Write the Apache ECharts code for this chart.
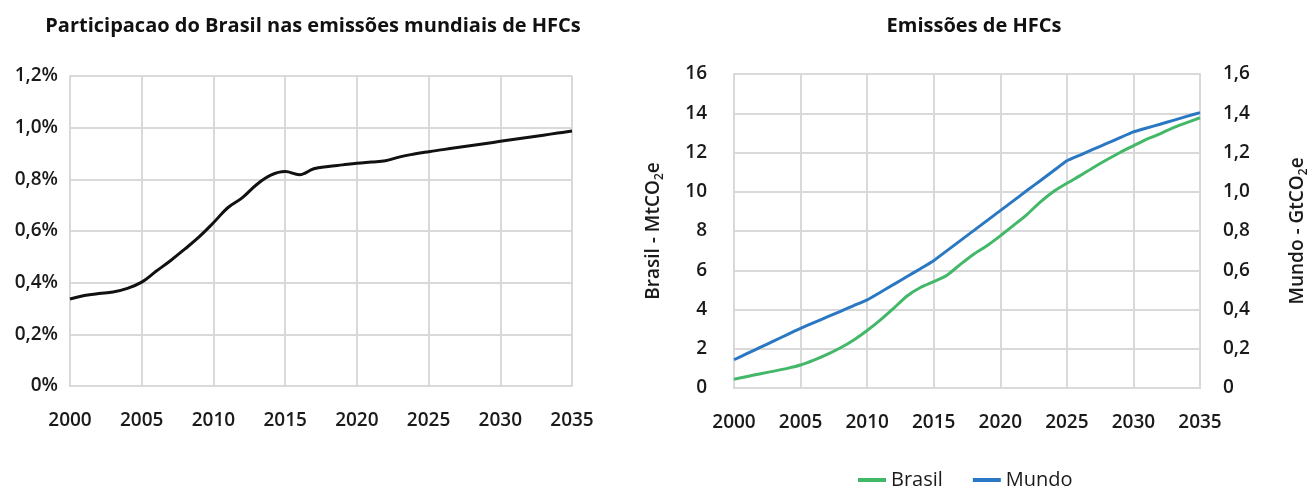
<!DOCTYPE html>
<html>
<head>
<meta charset="utf-8">
<script src="https://cdn.jsdelivr.net/npm/echarts@6/dist/echarts.min.js"></script>
<style>
html,body{margin:0;padding:0;background:#fff;}
#chart{width:1311px;height:488px;}
</style>
</head>
<body>
<div id="chart"></div>
<script>
// ---- Data ----
const years = [2000,2001,2002,2003,2004,2005,2006,2007,2008,2009,2010,2011,2012,2013,2014,2015,2016,2017,2018,2019,2020,2021,2022,2023,2024,2025,2026,2027,2028,2029,2030,2031,2032,2033,2034,2035];
// Brazil share of world HFC emissions (%)
const shareBrasil = [0.337,0.350,0.358,0.364,0.378,0.402,0.444,0.485,0.530,0.577,0.632,0.690,0.728,0.779,0.816,0.830,0.818,0.841,0.850,0.856,0.862,0.867,0.872,0.887,0.898,0.907,0.915,0.923,0.931,0.939,0.947,0.955,0.963,0.971,0.979,0.987];
// Brazil HFC emissions (MtCO2e)
const emisBrasil = [0.45,0.59,0.73,0.86,1.0,1.17,1.42,1.71,2.05,2.45,2.93,3.47,4.07,4.69,5.12,5.42,5.75,6.30,6.82,7.25,7.75,8.29,8.84,9.47,10.01,10.43,10.82,11.24,11.63,12.0,12.34,12.68,12.95,13.27,13.52,13.77];
// World HFC emissions (GtCO2e)
const emisMundo = [0.144,0.176,0.208,0.240,0.272,0.304,0.333,0.362,0.391,0.420,0.449,0.488,0.528,0.568,0.608,0.649,0.700,0.751,0.802,0.853,0.904,0.955,1.006,1.056,1.107,1.158,1.187,1.217,1.246,1.276,1.305,1.325,1.344,1.364,1.384,1.403];
const titleLeft = 'Participacao do Brasil nas emissões mundiais de HFCs';
const titleRight = 'Emissões de HFCs';

const FONT = '"Open Sans", "Noto Sans", sans-serif';
const gridColor = '#d9d9d9';
const green = '#43b869';
const blue = '#2a78c4';

const pair = (arr) => years.map((y,i)=>[y, arr[i]]);
const comma = (v, d) => (Math.abs(v) < 1e-9 ? '0' : v.toFixed(d).replace('.', ','));

const labelStyle = {fontFamily: FONT, fontSize: 19, fontWeight: 600, color: '#1a1a1a'};

function xAxis(gridIndex){
  return {
    type: 'value', gridIndex, min: 2000, max: 2035, interval: 5,
    axisLine: {show: true, lineStyle: {color: gridColor, width: 2}},
    axisTick: {show: false},
    splitLine: {show: true, lineStyle: {color: gridColor, width: 2}},
    axisLabel: Object.assign({margin: 25, formatter: v => String(v)}, labelStyle)
  };
}
const subRich = {s: {fontFamily: FONT, fontSize: 12, fontWeight: 600, color: '#1a1a1a', verticalAlign: 'bottom', lineHeight: 12}};

const chart = echarts.init(document.getElementById('chart'));
chart.setOption({
  backgroundColor: '#fff',
  animation: false,
  title: [
    {text: titleLeft, left: 308, top: 11, textAlign: 'center',
     textStyle: {fontFamily: FONT, fontSize: 20, fontWeight: 700, color: '#111'}},
    {text: titleRight, left: 969, top: 11, textAlign: 'center',
     textStyle: {fontFamily: FONT, fontSize: 20, fontWeight: 700, color: '#111'}}
  ],
  legend: {
    data: ['Brasil', 'Mundo'],
    left: 853, top: 465,
    itemWidth: 28, itemHeight: 4, itemGap: 30,
    icon: 'rect',
    textStyle: {fontFamily: FONT, fontSize: 20, fontWeight: 500, color: '#1a1a1a'}
  },
  grid: [
    {left: 70, top: 76, width: 502, height: 310},
    {left: 734, top: 74, width: 472, height: 314}
  ],
  xAxis: [xAxis(0), xAxis(1)],
  yAxis: [
    {type: 'value', gridIndex: 0, min: 0, max: 1.2, interval: 0.2,
     axisLine: {show: true, lineStyle: {color: gridColor, width: 2}},
     axisTick: {show: false},
     splitLine: {show: true, lineStyle: {color: gridColor, width: 2}},
     axisLabel: Object.assign({margin: 12, formatter: v => comma(v,1) + '%'}, labelStyle)},
    {type: 'value', gridIndex: 1, min: 0, max: 16, interval: 2,
     name: 'Brasil - MtCO{s|2}e', nameLocation: 'middle', nameGap: 68, nameRotate: 90,
     nameTextStyle: Object.assign({lineHeight: 24, rich: subRich}, labelStyle),
     axisLine: {show: true, lineStyle: {color: gridColor, width: 2}},
     axisTick: {show: false},
     splitLine: {show: true, lineStyle: {color: gridColor, width: 2}},
     axisLabel: Object.assign({margin: 27, formatter: v => String(v)}, labelStyle)},
    {type: 'value', gridIndex: 1, min: 0, max: 1.6, interval: 0.2, position: 'right',
     name: 'Mundo - GtCO{s|2}e', nameLocation: 'middle', nameGap: 86, nameRotate: 90,
     nameTextStyle: Object.assign({lineHeight: 24, rich: subRich}, labelStyle),
     axisLine: {show: true, lineStyle: {color: gridColor, width: 2}},
     axisTick: {show: false},
     splitLine: {show: false},
     axisLabel: Object.assign({margin: 23, formatter: v => comma(v,1)}, labelStyle)}
  ],
  series: [
    {name: 'Participacao', type: 'line', xAxisIndex: 0, yAxisIndex: 0, data: pair(shareBrasil),
     smooth: 0.4, showSymbol: false, lineStyle: {color: '#111', width: 3}, itemStyle: {color: '#111'}},
    {name: 'Brasil', type: 'line', xAxisIndex: 1, yAxisIndex: 1, data: pair(emisBrasil),
     smooth: 0.2, showSymbol: false, lineStyle: {color: green, width: 3}, itemStyle: {color: green}},
    {name: 'Mundo', type: 'line', xAxisIndex: 1, yAxisIndex: 2, data: pair(emisMundo),
     smooth: 0.1, showSymbol: false, lineStyle: {color: blue, width: 3}, itemStyle: {color: blue}}
  ]
});
</script>
</body>
</html>
